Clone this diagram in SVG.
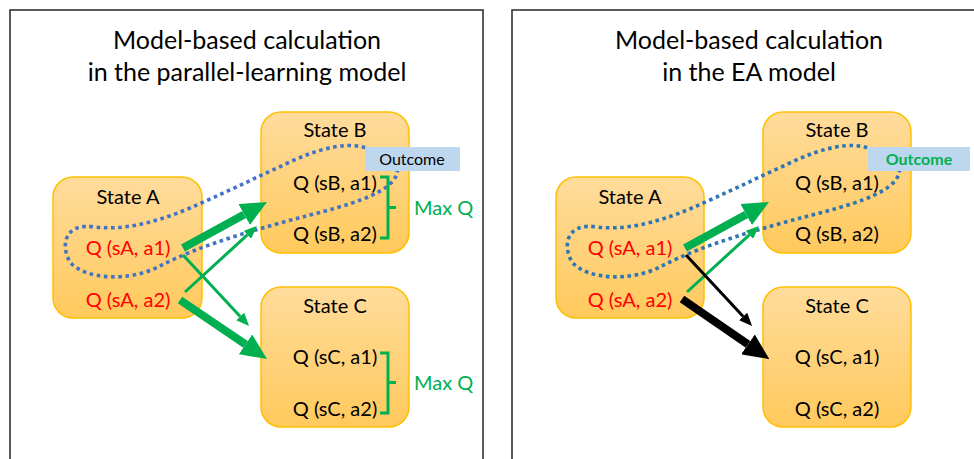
<svg xmlns="http://www.w3.org/2000/svg" width="974" height="459" viewBox="0 0 974 459">
<style>
text{font-family:Lato,"Open Sans","Liberation Sans",sans-serif}
.frame{fill:#fff;stroke:#333;stroke-width:1.6}
.title{font-size:25px;fill:#000;text-anchor:middle}
.state{fill:url(#g);stroke:#FFC000;stroke-width:1.5}
.lbl{font-size:20px;fill:#000;text-anchor:middle}
.red{fill:#FF0000}
.loop{fill:none;stroke:#4472C4;stroke-width:3.6;stroke-dasharray:3.6 3.6}
.loop2{stroke:#2E75B6}
.out{fill:#BDD7EE}
.outt{font-size:16px;fill:#000;text-anchor:middle}
.outg{fill:#00B050;font-weight:bold}
.br{fill:none;stroke:#00B050;stroke-width:3}
.maxq{font-size:20px;fill:#00B050}
.thickG{stroke:#00B050;stroke-width:8;marker-end:url(#hG)}
.thinG{stroke:#00B050;stroke-width:3;marker-end:url(#hg)}
.thickK{stroke:#000;stroke-width:8;marker-end:url(#hK)}
.thinK{stroke:#000;stroke-width:3;marker-end:url(#hk)}
</style>
<defs>
<linearGradient id="g" x1="0" y1="0" x2="0" y2="1">
<stop offset="0" stop-color="#FFDC9C"/>
<stop offset="1" stop-color="#FFC95C"/>
</linearGradient>
<marker id="hG" markerUnits="userSpaceOnUse" markerWidth="26" markerHeight="24" refX="0" refY="12" orient="auto" viewBox="0 0 26 24"><path d="M0,0 L26,12 L0,24 Z" fill="#00B050"/></marker>
<marker id="hK" markerUnits="userSpaceOnUse" markerWidth="26" markerHeight="24" refX="0" refY="12" orient="auto" viewBox="0 0 26 24"><path d="M0,0 L26,12 L0,24 Z" fill="#000"/></marker>
<marker id="hg" markerUnits="userSpaceOnUse" markerWidth="13" markerHeight="11" refX="0" refY="5.5" orient="auto" viewBox="0 0 13 11"><path d="M0,0 L13,5.5 L0,11 Z" fill="#00B050"/></marker>
<marker id="hk" markerUnits="userSpaceOnUse" markerWidth="13" markerHeight="11" refX="0" refY="5.5" orient="auto" viewBox="0 0 13 11"><path d="M0,0 L13,5.5 L0,11 Z" fill="#000"/></marker>
</defs>
<rect width="974" height="459" fill="#fff"/>

<!-- Left panel -->
<g id="panel-left">
<rect class="frame" x="10" y="10" width="473" height="460"/>
<g id="title-left">
<text class="title" x="247" y="49">Model-based calculation</text>
<text class="title" x="247" y="81">in the parallel-learning model</text>
</g>
<g id="L-stateA">
<rect class="state" x="53" y="177" width="149" height="141" rx="20"/>
<text class="lbl" x="128" y="204">State A</text>
<text class="lbl red" x="128" y="255">Q (sA, a1)</text>
<text class="lbl red" x="128" y="307">Q (sA, a2)</text>
</g>
<g id="L-stateB">
<rect class="state" x="261" y="112" width="148" height="141" rx="20"/>
<text class="lbl" x="335" y="137">State B</text>
<text class="lbl" x="335" y="190">Q (sB, a1)</text>
<text class="lbl" x="335" y="241">Q (sB, a2)</text>
</g>
<g id="L-stateC">
<rect class="state" x="261" y="287" width="148" height="140" rx="20"/>
<text class="lbl" x="335" y="313">State C</text>
<text class="lbl" x="335" y="364">Q (sC, a1)</text>
<text class="lbl" x="335" y="416">Q (sC, a2)</text>
</g>
<path id="L-loop" class="loop" d="M372,150 C350,140 320,148 290,162 C255,178 220,195 190,208 C150,225 120,230 95,227 C65,222 60,245 70,262 C85,280 130,282 160,266 C200,245 260,228 310,215 C350,205 380,195 392,182 C398,175 398,170 397,165 Z"/>
<g id="L-connectors">
<line class="thickG" x1="183" y1="248" x2="244.2" y2="214.5"/>
<line class="thinG" x1="185" y1="292" x2="247.4" y2="234.8"/>
<line class="thinG" x1="183" y1="255" x2="240.2" y2="316.5"/>
<line class="thickG" x1="180" y1="300" x2="245.5" y2="344.4"/>
</g>
<g id="L-outcome">
<rect class="out" x="365" y="147" width="95" height="24"/>
<text class="outt" x="412" y="165">Outcome</text>
</g>
<g id="L-maxqB">
<path class="br" d="M380,177 H388 V238 H380 M388,207.5 H396"/>
<text class="maxq" x="414" y="215">Max Q</text>
</g>
<g id="L-maxqC">
<path class="br" d="M380,353 H388 V413 H380 M388,382.5 H396"/>
<text class="maxq" x="414" y="390">Max Q</text>
</g>
</g>

<!-- Right panel -->
<g id="panel-right">
<rect class="frame" x="512" y="10" width="480" height="460"/>
<g id="title-right">
<text class="title" x="749" y="49">Model-based calculation</text>
<text class="title" x="749" y="81">in the EA model</text>
</g>
<g id="R-stateA">
<rect class="state" x="556" y="177" width="148" height="141" rx="20"/>
<text class="lbl" x="630" y="204">State A</text>
<text class="lbl red" x="630" y="255">Q (sA, a1)</text>
<text class="lbl red" x="630" y="307">Q (sA, a2)</text>
</g>
<g id="R-stateB">
<rect class="state" x="763" y="112" width="148" height="141" rx="20"/>
<text class="lbl" x="837" y="137">State B</text>
<text class="lbl" x="837" y="190">Q (sB, a1)</text>
<text class="lbl" x="837" y="241">Q (sB, a2)</text>
</g>
<g id="R-stateC">
<rect class="state" x="763" y="287" width="148" height="140" rx="20"/>
<text class="lbl" x="837" y="313">State C</text>
<text class="lbl" x="837" y="364">Q (sC, a1)</text>
<text class="lbl" x="837" y="416">Q (sC, a2)</text>
</g>
<path id="R-loop" class="loop loop2" transform="translate(502,0)" d="M372,150 C350,140 320,148 290,162 C255,178 220,195 190,208 C150,225 120,230 95,227 C65,222 60,245 70,262 C85,280 130,282 160,266 C200,245 260,228 310,215 C350,205 380,195 392,182 C398,175 398,170 397,165 Z"/>
<g id="R-connectors">
<line class="thickG" x1="685" y1="248" x2="746.2" y2="214.5"/>
<line class="thinG" x1="687" y1="292" x2="749.4" y2="234.8"/>
<line class="thinK" x1="686" y1="255" x2="743.2" y2="316.5"/>
<line class="thickK" x1="682" y1="299" x2="748" y2="344.4"/>
</g>
<g id="R-outcome">
<rect class="out" x="868" y="147" width="102" height="24"/>
<text class="outt outg" x="919" y="165">Outcome</text>
</g>
</g>
</svg>
